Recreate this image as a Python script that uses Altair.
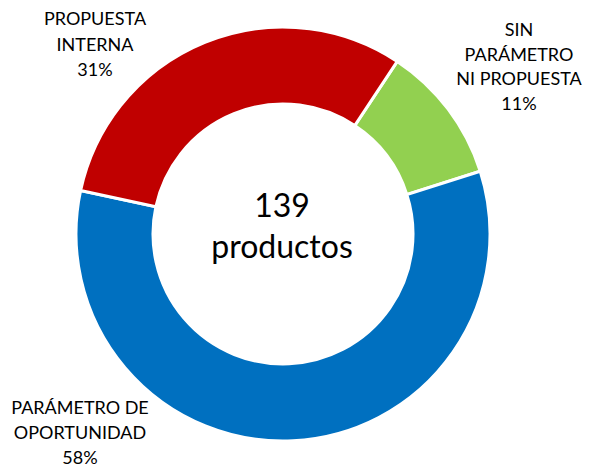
import math
import altair as alt
import pandas as pd

categories = ["SIN PARÁMETRO NI PROPUESTA", "PARÁMETRO DE OPORTUNIDAD", "PROPUESTA INTERNA"]
counts = [15, 81, 43]
colors = ["#92D050", "#0070C0", "#C00000"]
order = [0, 1, 2]
total_label = ["139", "productos"]
label_lines = [
    ["SIN", "PARÁMETRO", "NI PROPUESTA", "11%"],
    ["PARÁMETRO DE", "OPORTUNIDAD", "58%"],
    ["PROPUESTA", "INTERNA", "31%"],
]

df = pd.DataFrame({"cat": categories, "n": counts, "ord": order})

start = math.radians(33.5)
CX, CY = 275, 226
FONT = "Lato"

donut = alt.Chart(df).mark_arc(
    innerRadius=130, outerRadius=207, stroke="white", strokeWidth=3
).encode(
    theta=alt.Theta("n:Q", stack=True, scale=alt.Scale(range=[start, start + 2 * math.pi])),
    color=alt.Color("cat:N", scale=alt.Scale(domain=categories, range=colors), legend=None),
    order=alt.Order("ord:Q"),
    x=alt.value(CX),
    y=alt.value(CY),
)

base_txt = alt.Chart(pd.DataFrame({"a": [0]}))

center = base_txt.mark_text(
    text=total_label, font=FONT, fontSize=32, lineHeight=41, baseline="middle", align="center", color="black"
).encode(x=alt.value(CX - 1), y=alt.value(199))

label_pos = [(511, 23, 24.5), (72, 401, 25), (87, 12, 25.5)]
labels = [
    base_txt.mark_text(
        text=lines, font=FONT, fontSize=18, lineHeight=lh, baseline="middle", align="center", color="black"
    ).encode(x=alt.value(px), y=alt.value(py))
    for lines, (px, py, lh) in zip(label_lines, label_pos)
]

chart = alt.layer(donut, center, *labels).properties(
    width=575, height=461, padding=0, autosize=alt.AutoSizeParams(type="none")
).configure_view(stroke=None)

chart.save("out.html", embed_options={"renderer": "svg", "actions": False})
